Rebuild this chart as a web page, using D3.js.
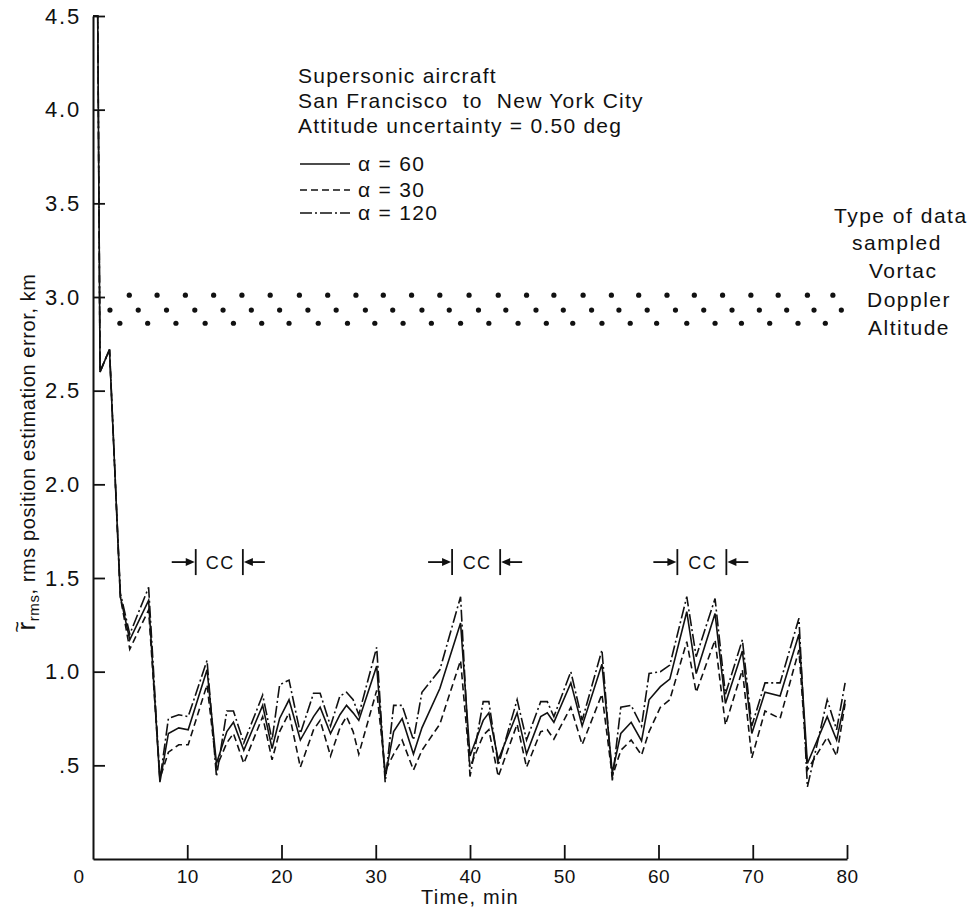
<!DOCTYPE html>
<html>
<head>
<meta charset="utf-8">
<script src="https://cdn.jsdelivr.net/npm/d3@7"></script>
<style>
  html, body { margin: 0; padding: 0; background: #fff; }
  svg text { font-family: "Liberation Sans", Arial, sans-serif; fill: #111; }
</style>
</head>
<body>
<svg id="chart" width="974" height="911"></svg>
<script>
// Time grid (min) shared by the three filter-gain runs
const times = [0, 0.5, 0.75, 1.75, 2.9, 3.9, 5.9, 7.1, 8.0, 9.1, 10.1, 12.1, 13.1, 14.2, 14.9, 16.0,
  18.0, 19.0, 19.8, 20.8, 22.0, 23.4, 24.1, 25.2, 26.2, 26.9, 27.6, 28.2, 30.1, 31.0, 31.9, 32.8,
  34.0, 34.9, 36.8, 39.0, 40.0, 41.4, 42.0, 43.0, 45.0, 46.0, 47.5, 48.2, 48.9, 50.7, 51.9, 54.0,
  55.1, 56.0, 57.1, 58.2, 59.0, 60.2, 61.2, 63.0, 64.0, 66.0, 67.1, 68.9, 69.9, 71.3, 72.9, 74.9,
  75.8, 77.9, 78.9, 79.8];

// rms position estimation error, km
const alpha60 = [4.5, 4.5, 2.6, 2.72, 1.40, 1.17, 1.38, 0.41, 0.67, 0.70, 0.69, 1.01, 0.51, 0.68, 0.73, 0.58,
  0.82, 0.59, 0.75, 0.85, 0.635, 0.76, 0.81, 0.67, 0.77, 0.82, 0.78, 0.74, 1.03, 0.44, 0.68, 0.75,
  0.56, 0.70, 0.91, 1.26, 0.55, 0.74, 0.78, 0.53, 0.78, 0.56, 0.76, 0.78, 0.73, 0.94, 0.71, 1.04,
  0.46, 0.67, 0.73, 0.63, 0.85, 0.92, 0.96, 1.32, 0.99, 1.31, 0.83, 1.11, 0.67, 0.89, 0.87, 1.20,
  0.51, 0.76, 0.635, 0.85];
const alpha30 = [4.5, 4.5, 2.6, 2.72, 1.40, 1.12, 1.33, 0.43, 0.57, 0.61, 0.61, 0.93, 0.49, 0.62, 0.67, 0.51,
  0.76, 0.53, 0.68, 0.78, 0.49, 0.69, 0.74, 0.55, 0.70, 0.76, 0.68, 0.56, 0.90, 0.47, 0.56, 0.635,
  0.475, 0.58, 0.72, 1.06, 0.49, 0.66, 0.69, 0.44, 0.72, 0.49, 0.68, 0.69, 0.64, 0.81, 0.61, 0.88,
  0.44, 0.58, 0.635, 0.555, 0.68, 0.81, 0.85, 1.16, 0.89, 1.17, 0.715, 1.01, 0.54, 0.79, 0.75, 1.116,
  0.475, 0.65, 0.55, 0.83];
const alpha120 = [4.5, 4.5, 2.6, 2.72, 1.42, 1.20, 1.45, 0.42, 0.75, 0.77, 0.76, 1.06, 0.44, 0.79, 0.79, 0.62,
  0.875, 0.635, 0.93, 0.955, 0.67, 0.885, 0.885, 0.71, 0.87, 0.89, 0.85, 0.77, 1.13, 0.41, 0.82, 0.82,
  0.635, 0.89, 1.01, 1.40, 0.44, 0.84, 0.84, 0.50, 0.85, 0.635, 0.84, 0.84, 0.76, 1.00, 0.74, 1.116,
  0.42, 0.81, 0.82, 0.71, 0.99, 1.00, 1.035, 1.40, 1.08, 1.39, 0.88, 1.17, 0.71, 0.94, 0.94, 1.285,
  0.385, 0.85, 0.69, 0.94];

// Sampling times (min) for each data type
const vortacTimes = [3.85, 6.8, 9.8, 12.8, 15.8, 18.8, 21.9, 24.9, 27.9, 30.8, 33.8, 36.8, 39.9, 43.0,
  46.0, 48.9, 52.0, 55.0, 57.9, 60.9, 63.8, 66.8, 69.8, 72.7, 75.8, 78.5];
const dopplerTimes = [1.8, 4.8, 7.8, 10.8, 13.8, 16.8, 19.8, 22.8, 25.8, 28.9, 31.8, 34.9, 37.8, 40.9,
  43.8, 47.0, 49.9, 52.9, 55.8, 58.8, 61.8, 64.8, 67.8, 70.7, 73.6, 76.5, 79.4];
const altitudeTimes = [2.85, 5.8, 8.8, 11.9, 14.9, 17.9, 20.8, 23.9, 27.0, 29.9, 32.9, 35.9, 39.0, 42.0,
  45.1, 48.1, 50.9, 54.0, 57.0, 59.8, 63.0, 66.0, 68.8, 71.8, 74.8, 77.7];
const sampleLevels = { vortac: 3.01, doppler: 2.93, altitude: 2.86 };

// Central-computer (CC) intervals, min
const ccStart = [10.9, 38.1, 62.0];
const ccEnd = [15.9, 43.2, 67.2];
const ccLevel = 1.585;

const xTicks = [0, 10, 20, 30, 40, 50, 60, 70, 80];
const yTicks = [0.5, 1.0, 1.5, 2.0, 2.5, 3.0, 3.5, 4.0, 4.5];
const yTickLabels = [".5", "1.0", "1.5", "2.0", "2.5", "3.0", "3.5", "4.0", "4.5"];

const titleLines = ["Supersonic aircraft", "San Francisco  to  New York City", "Attitude uncertainty = 0.50 deg"];
const legendItems = [
  { label: "\u03b1 = 60", dash: null },
  { label: "\u03b1 = 30", dash: "7,4" },
  { label: "\u03b1 = 120", dash: "12,3,2,3" }
];

const svg = d3.select("#chart");
const x = d3.scaleLinear().domain([0, 80]).range([93, 847]);
const y = d3.scaleLinear().domain([0, 4.5]).range([859, 16]);
const FONT = "'Liberation Sans', Arial, sans-serif";

// Axes
const xAxis = d3.axisBottom(x).tickValues(xTicks).tickSizeInner(-14).tickSizeOuter(0)
  .tickFormat(d3.format("d"));
const gx = svg.append("g").attr("transform", `translate(0,${y(0)})`).call(xAxis);
gx.select(".domain").attr("stroke", "#111").attr("stroke-width", 2);
gx.selectAll(".tick line").attr("stroke", "#111").attr("stroke-width", 1.8);
gx.selectAll(".tick").filter(d => d === 0).select("line").remove();
gx.selectAll(".tick text").attr("font-size", 19).attr("dy", 0).attr("y", 24)
  .attr("letter-spacing", 0.5).style("font-family", FONT).attr("fill", "#111");
gx.selectAll(".tick").filter(d => d === 0).select("text").attr("text-anchor", "end").attr("x", -9);

const yAxis = d3.axisLeft(y).tickValues(yTicks).tickSizeInner(-12).tickSizeOuter(0)
  .tickFormat((d, i) => yTickLabels[i]);
const gy = svg.append("g").attr("transform", `translate(${x(0)},0)`).call(yAxis);
gy.select(".domain").attr("stroke", "#111").attr("stroke-width", 2);
gy.selectAll(".tick line").attr("stroke", "#111").attr("stroke-width", 1.8);
gy.selectAll(".tick text").attr("font-size", 22).attr("x", -12).attr("letter-spacing", 1.8)
  .style("font-family", FONT).attr("fill", "#111");

// Axis titles
svg.append("text").attr("x", x(40)).attr("y", 904).attr("text-anchor", "middle")
  .attr("font-size", 20).attr("letter-spacing", 1.2).text("Time, min");

const yTitleG = svg.append("g").attr("transform", "translate(35,452) rotate(-90)");
const yTitle = yTitleG.append("text").attr("text-anchor", "middle").attr("font-size", 20)
  .attr("letter-spacing", 0.6);
yTitle.append("tspan").attr("font-size", 26).text("r");
yTitle.append("tspan").attr("font-size", 15).attr("dy", 4).text("rms");
yTitle.append("tspan").attr("dy", -4).text(",   rms position estimation error, km");
// tilde over the r
const rBox = yTitle.node().getExtentOfChar(0);
yTitleG.append("text").attr("x", rBox.x + rBox.width / 2 - 1).attr("y", rBox.y + 13)
  .attr("text-anchor", "middle").attr("font-size", 20).text("~");

// Curves
const rows = times.map((t, i) => ({ t, a60: alpha60[i], a30: alpha30[i], a120: alpha120[i] }));
const series = [
  { key: "a30", dash: "7,4" },
  { key: "a120", dash: "12,3,2,3" },
  { key: "a60", dash: null }
];
series.forEach(s => {
  const line = d3.line().x(d => x(d.t)).y(d => y(d[s.key]));
  svg.append("path").datum(rows).attr("d", line)
    .attr("fill", "none").attr("stroke", "#111").attr("stroke-width", 1.6)
    .attr("stroke-linejoin", "miter").attr("stroke-dasharray", s.dash);
});

// Sampled-data dot rows
const dots = svg.append("g").attr("fill", "#111");
[["vortac", vortacTimes], ["doppler", dopplerTimes], ["altitude", altitudeTimes]].forEach(([k, ts]) => {
  dots.selectAll(null).data(ts).join("circle")
    .attr("cx", d => x(d)).attr("cy", y(sampleLevels[k])).attr("r", 2.6);
});

// Right-hand key for the dot rows
const key = svg.append("g").attr("font-size", 21).attr("letter-spacing", 1.5);
key.append("text").attr("x", 834).attr("y", 223).text("Type of data");
key.append("text").attr("x", 897).attr("y", 250).attr("text-anchor", "middle").text("sampled");
key.append("text").attr("x", 869).attr("y", 278).text("Vortac");
key.append("text").attr("x", 867).attr("y", 307).text("Doppler");
key.append("text").attr("x", 868).attr("y", 335).text("Altitude");

// Title block
const title = svg.append("g").attr("font-size", 21).attr("letter-spacing", 1.25);
titleLines.forEach((t, i) => {
  title.append("text").attr("x", 298).attr("y", [83, 108, 133][i]).attr("xml:space", "preserve").text(t);
});

// Legend
const legendY = [164, 190, 213];
legendItems.forEach((it, i) => {
  svg.append("line").attr("x1", 300).attr("x2", 350).attr("y1", legendY[i]).attr("y2", legendY[i])
    .attr("stroke", "#111").attr("stroke-width", 1.6).attr("stroke-dasharray", it.dash);
  svg.append("text").attr("x", 358).attr("y", legendY[i] + 7).attr("font-size", 21)
    .attr("letter-spacing", 1.3).text(it.label);
});

// CC interval markers
const cc = svg.append("g");
const cy = y(ccLevel);
ccStart.forEach((s, i) => {
  const x0 = x(s), x1 = x(ccEnd[i]);
  cc.append("line").attr("x1", x0).attr("x2", x0).attr("y1", cy - 13).attr("y2", cy + 13)
    .attr("stroke", "#111").attr("stroke-width", 1.8);
  cc.append("line").attr("x1", x1).attr("x2", x1).attr("y1", cy - 13).attr("y2", cy + 13)
    .attr("stroke", "#111").attr("stroke-width", 1.8);
  cc.append("line").attr("x1", x0 - 24).attr("x2", x0 - 6).attr("y1", cy).attr("y2", cy)
    .attr("stroke", "#111").attr("stroke-width", 1.8);
  cc.append("path").attr("d", `M${x0 - 1},${cy} L${x0 - 10},${cy - 4} L${x0 - 10},${cy + 4} Z`).attr("fill", "#111");
  cc.append("line").attr("x1", x1 + 6).attr("x2", x1 + 22).attr("y1", cy).attr("y2", cy)
    .attr("stroke", "#111").attr("stroke-width", 1.8);
  cc.append("path").attr("d", `M${x1 + 1},${cy} L${x1 + 10},${cy - 4} L${x1 + 10},${cy + 4} Z`).attr("fill", "#111");
  cc.append("text").attr("x", (x0 + x1) / 2 + 1).attr("y", cy + 7).attr("text-anchor", "middle")
    .attr("font-size", 18).attr("letter-spacing", 1.5).text("CC");
});
</script>
</body>
</html>
